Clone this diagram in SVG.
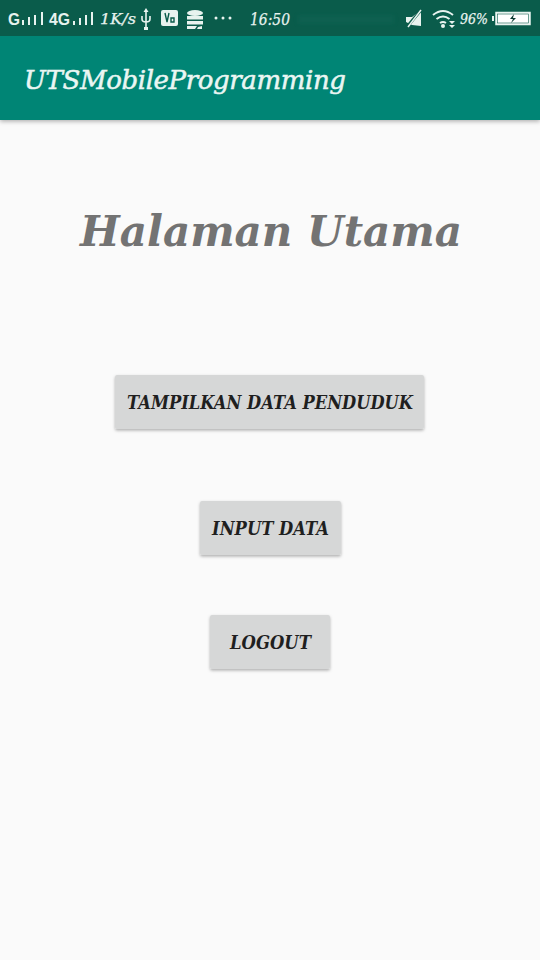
<svg xmlns="http://www.w3.org/2000/svg" width="540" height="960" viewBox="0 0 540 960">
<defs>
<filter id="sh" x="-10%" y="-20%" width="120%" height="150%"><feDropShadow dx="0" dy="1.5" stdDeviation="1.5" flood-color="#000" flood-opacity="0.3"/></filter>
<filter id="bar" x="-5%" y="-10%" width="110%" height="130%"><feDropShadow dx="0" dy="1.5" stdDeviation="2" flood-color="#000" flood-opacity="0.3"/></filter>
<filter id="soft" x="-5%" y="-30%" width="110%" height="160%"><feGaussianBlur stdDeviation="2"/></filter>
</defs>
<style>
.s{font-family:"DejaVu Serif","Liberation Serif",serif;font-style:italic}
.b{font-family:"DejaVu Serif","Liberation Serif",serif;font-style:italic;font-weight:bold;fill:#1f1f1f;font-size:18px}
.st{fill:#e8f3ef;font-size:14px;stroke:#e8f3ef;stroke-width:0.250px}
.g{font-family:"Liberation Sans",sans-serif;font-weight:bold;fill:#e8f3ef}
.btn{fill:#d6d7d7}
.i{fill:#e8f3ef}
.l{stroke:#e8f3ef;fill:none}
</style>
<rect width="540" height="960" fill="#fafafa"/>
<g id="app-bar">
<rect y="36" width="540" height="84" fill="#008574" filter="url(#bar)"/>
<text class="s" x="24" y="89" font-size="26" fill="#eaf6f3" stroke="#eaf6f3" stroke-width="0.500" textLength="322" lengthAdjust="spacing">UTSMobileProgramming</text>
</g>
<g id="status-bar">
<rect width="540" height="36" fill="#0a5c4b"/>
<rect x="298" y="15" width="96" height="9" fill="#14695a" opacity="0.350" filter="url(#soft)"/>
<text class="g" x="8" y="25" font-size="16" textLength="12" lengthAdjust="spacingAndGlyphs">G</text>
<path class="l" stroke-width="2" d="M23 25v-5M29 25v-8M35 25v-10M42 25v-13"/>
<text class="g" x="49" y="25" font-size="16" textLength="21" lengthAdjust="spacingAndGlyphs">4G</text>
<path class="l" stroke-width="2" d="M74 25v-4M80 25v-7M86 25v-10M92 25v-13"/>
<text class="s st" x="100" y="24" textLength="36" lengthAdjust="spacingAndGlyphs">1K/s</text>
<path class="l" stroke-width="1.600" d="M146 11v17M142 16v3q0 3 4 3t4-3v-3"/>
<path class="i" d="M146 8l-2.500 4h5zM144 27h4v3h-4z"/>
<rect class="i" x="161" y="10" width="17" height="16" rx="2"/>
<path d="M165 13l2 9 2-9M171 18h3v4h-3z" stroke="#0a5c4b" stroke-width="1.400" fill="none"/>
<ellipse class="i" cx="195" cy="13" rx="8" ry="3"/>
<rect class="i" x="187" y="16" width="16" height="3.500"/>
<rect class="i" x="187" y="21" width="16" height="3.500"/>
<path class="i" d="M187 26h10l-2 3h-8zM198 27l4-1v3h-5z"/>
<circle class="i" cx="216" cy="18" r="1.500"/><circle class="i" cx="223" cy="18" r="1.500"/><circle class="i" cx="230" cy="18" r="1.500"/>
<text class="s st" x="250" y="25" style="font-size:17px" textLength="40" lengthAdjust="spacingAndGlyphs">16:50</text>
<path class="i" d="M406 17h6l9-7v16l-9-1-6-3z"/>
<path d="M406 28l15-18" stroke="#0a5c4b" stroke-width="3"/>
<path d="M408 27l13-17" stroke="#e8f3ef" stroke-width="1.500"/>
<path class="l" stroke-width="2" d="M433 15q10-8 20 0M436.500 19q6.500-5 13 0M440 23q3-2 6 0"/>
<circle class="i" cx="443" cy="26" r="2"/>
<path class="i" d="M449 21h6l-3 3zM449 25h6l-3 3z"/>
<text class="s st" x="460" y="24" textLength="28" lengthAdjust="spacingAndGlyphs">96%</text>
<rect class="i" x="492" y="16" width="2" height="5"/>
<rect x="496" y="12.500" width="34" height="12" fill="#ffffff" stroke="#e8f3ef" stroke-width="1.500"/>
<rect x="497.500" y="14" width="31" height="9" fill="#ffffff" stroke="#0a5c4b" stroke-width="0.600"/>
<path d="M514 14l-4 5h3l-2 4 5-5h-3z" fill="#0a3a30"/>
</g>
<g id="title">
<text class="s" x="80" y="246" font-size="42" font-weight="bold" fill="#737373" textLength="382" lengthAdjust="spacing">Halaman Utama</text>
</g>
<g id="btn-tampilkan">
<rect class="btn" x="115" y="375" width="309" height="54" rx="2" filter="url(#sh)"/>
<text class="b" x="127" y="409" textLength="286" lengthAdjust="spacingAndGlyphs">TAMPILKAN DATA PENDUDUK</text>
</g>
<g id="btn-input">
<rect class="btn" x="200" y="501" width="141" height="54" rx="2" filter="url(#sh)"/>
<text class="b" x="212" y="535" textLength="117" lengthAdjust="spacingAndGlyphs">INPUT DATA</text>
</g>
<g id="btn-logout">
<rect class="btn" x="210" y="615" width="120" height="54" rx="2" filter="url(#sh)"/>
<text class="b" x="230" y="649" textLength="81" lengthAdjust="spacingAndGlyphs">LOGOUT</text>
</g>
</svg>
